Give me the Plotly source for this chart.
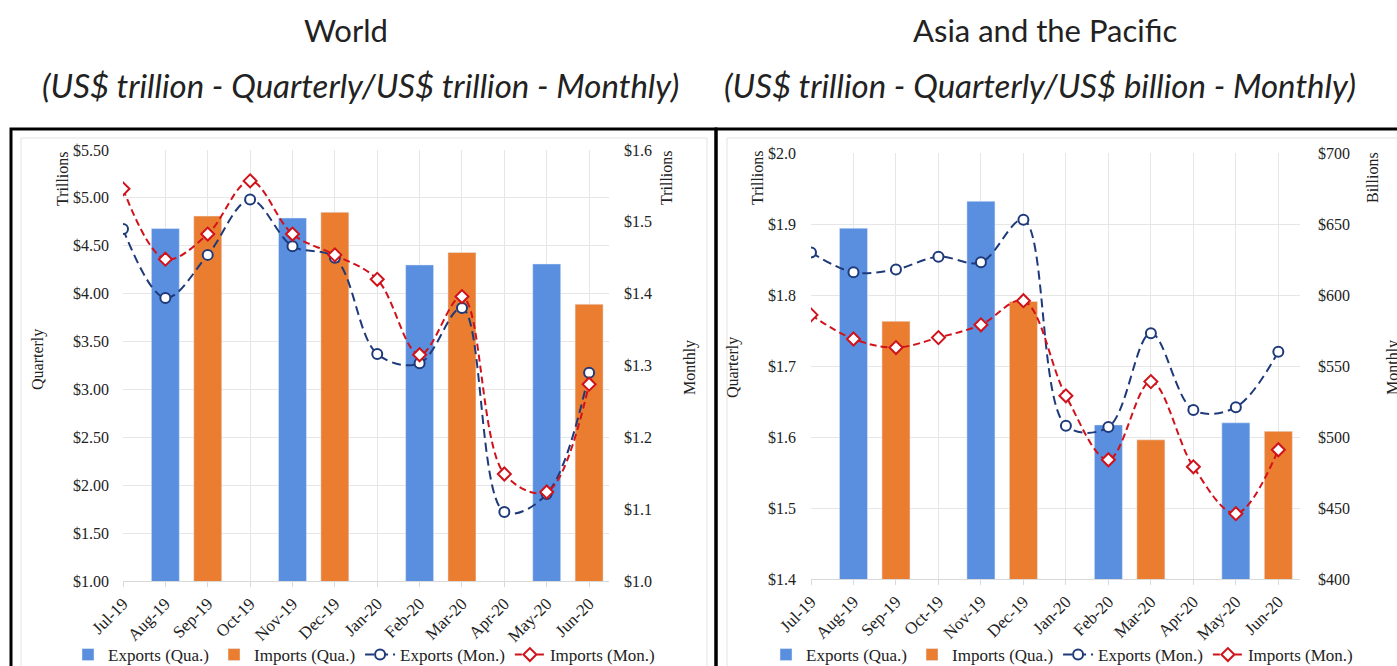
import plotly.graph_objects as go

months = ["Jul-19", "Aug-19", "Sep-19", "Oct-19", "Nov-19", "Dec-19",
          "Jan-20", "Feb-20", "Mar-20", "Apr-20", "May-20", "Jun-20"]

# World (US$ trillion)
w_exp_q = [None, 4.68, None, None, 4.79, None, None, 4.30, None, None, 4.31, None]
w_imp_q = [None, None, 4.81, None, None, 4.85, None, None, 4.43, None, None, 3.89]
w_exp_m = [1.490, 1.394, 1.454, 1.531, 1.466, 1.450, 1.316, 1.303, 1.380, 1.096, 1.121, 1.290]
w_imp_m = [1.546, 1.448, 1.483, 1.557, 1.483, 1.454, 1.420, 1.315, 1.396, 1.149, 1.124, 1.274]

# Asia and the Pacific (US$ trillion quarterly / US$ billion monthly)
a_exp_q = [None, 1.894, None, None, 1.932, None, None, 1.617, None, None, 1.620, None]
a_imp_q = [None, None, 1.763, None, None, 1.791, None, None, 1.596, None, None, 1.608]
a_exp_m = [630, 616, 618, 627, 623, 653, 508, 507, 573, 519, 521, 560]
a_imp_m = [586, 569, 563, 570, 579, 596, 529, 484, 539, 479, 446, 491]

BLUE = "#5A8FE0"
ORANGE = "#EB7D30"
NAVY = "#1F3A7A"
RED = "#D0121B"
SERIF = "Liberation Serif"
GRID = "#E6E6E6"

W, H = 1397, 666
def px(x):
    return x / W
def py(y):
    return 1 - y / H

fig = go.Figure()

def add_panel(xa, ya_q, ya_m, exp_q, imp_q, exp_m, imp_m, legend):
    fig.add_trace(go.Bar(x=months, y=exp_q, name="Exports (Qua.)", marker_color=BLUE,
                         width=0.66, xaxis=xa, yaxis=ya_q, legend=legend))
    fig.add_trace(go.Bar(x=months, y=imp_q, name="Imports (Qua.)", marker_color=ORANGE,
                         width=0.66, xaxis=xa, yaxis=ya_q, legend=legend))
    fig.add_trace(go.Scatter(x=months, y=exp_m, name="Exports (Mon.)", mode="lines+markers",
                             line=dict(color=NAVY, width=2, dash="9px,5px", shape="spline", smoothing=1),
                             marker=dict(symbol="circle", size=10, color="white",
                                         line=dict(color=NAVY, width=2)),
                             xaxis=xa, yaxis=ya_m, legend=legend))
    fig.add_trace(go.Scatter(x=months, y=imp_m, name="Imports (Mon.)", mode="lines+markers",
                             line=dict(color=RED, width=2, dash="7px,4px", shape="spline", smoothing=1),
                             marker=dict(symbol="diamond", size=10, color="white",
                                         line=dict(color=RED, width=2)),
                             xaxis=xa, yaxis=ya_m, legend=legend))

add_panel("x", "y", "y2", w_exp_q, w_imp_q, w_exp_m, w_imp_m, "legend")
add_panel("x2", "y3", "y4", a_exp_q, a_imp_q, a_exp_m, a_imp_m, "legend2")

tickfont = dict(family=SERIF, size=16, color="#222")
xtickfont = dict(family=SERIF, size=17, color="#222")
xcommon = dict(type="category", categoryorder="array", categoryarray=months,
               tickangle=-45, showgrid=True, gridcolor=GRID, gridwidth=1,
               showline=True, linecolor="#D9D9D9", ticks="outside", ticklen=5,
               tickcolor="#D9D9D9", tickfont=xtickfont, zeroline=False, automargin=False)
ycommon = dict(showgrid=True, gridcolor=GRID, zeroline=False, showline=False,
               tickfont=tickfont, ticks="", automargin=False)

legcommon = dict(orientation="h", xref="container", yref="container", xanchor="center",
                 yanchor="middle", font=dict(family=SERIF, size=17, color="#222"),
                 bgcolor="rgba(0,0,0,0)", traceorder="normal", itemwidth=30)

fig.update_layout(
    width=W, height=H, autosize=False,
    margin=dict(l=0, r=0, t=0, b=0, autoexpand=False),
    paper_bgcolor="white", plot_bgcolor="white",
    barmode="overlay",
    xaxis=dict(xcommon, domain=[px(123), px(609)], range=[0, 11.47], anchor="y"),
    yaxis=dict(ycommon, domain=[py(581), py(150)], range=[1.0, 5.5], dtick=0.5,
               tickformat="$.2f", anchor="x", ticklabelstandoff=13),
    yaxis2=dict(ycommon, range=[1.0, 1.6], dtick=0.1, tickformat="$.1f", overlaying="y",
                side="right", anchor="x", showgrid=False, ticklabelstandoff=14),
    xaxis2=dict(xcommon, domain=[px(811), px(1300)], range=[0, 11.51], anchor="y3"),
    yaxis3=dict(ycommon, domain=[py(579), py(153)], range=[1.4, 2.0], dtick=0.1,
                tickformat="$.1f", anchor="x2", ticklabelstandoff=14),
    yaxis4=dict(ycommon, range=[400, 700], dtick=50, tickformat="$,.0f", overlaying="y3",
                side="right", anchor="x2", showgrid=False, ticklabelstandoff=17),
    legend=dict(legcommon, x=px(364), y=py(655)),
    legend2=dict(legcommon, x=px(1062), y=py(655)),
)

# Frames
fig.add_shape(type="rect", xref="paper", yref="paper", x0=px(21), x1=px(707), y0=py(680), y1=py(138),
              line=dict(color="#E3E3E3", width=1), layer="below")
fig.add_shape(type="rect", xref="paper", yref="paper", x0=px(727), x1=px(1410), y0=py(680), y1=py(138),
              line=dict(color="#E3E3E3", width=1), layer="below")
fig.add_shape(type="rect", xref="paper", yref="paper", x0=px(11), x1=px(716), y0=py(690), y1=py(129),
              line=dict(color="black", width=3))
fig.add_shape(type="rect", xref="paper", yref="paper", x0=px(716), x1=px(1420), y0=py(690), y1=py(129),
              line=dict(color="black", width=3))

TFONT = "Lato"
def ann(text, x, y, size=16, angle=0, family=SERIF, color="#222"):
    fig.add_annotation(text=text, xref="paper", yref="paper", x=px(x), y=py(y),
                       xanchor="center", yanchor="middle", showarrow=False, textangle=angle,
                       font=dict(family=family, size=size, color=color))

ann("World", 346, 30, size=31, family=TFONT, color="#222")
ann("Asia and the Pacific", 1045, 30, size=31, family=TFONT, color="#222")
ann("<i>(US$ trillion - Quarterly/US$ trillion - Monthly)</i>", 360, 85, size=33, family=TFONT, color="#222")
ann("<i>(US$ trillion - Quarterly/US$ billion - Monthly)</i>", 1040, 85, size=33, family=TFONT, color="#222")

ann("Trillions", 62, 178, angle=-90)
ann("Quarterly", 38, 360, angle=-90)
ann("Trillions", 666, 178, angle=-90)
ann("Monthly", 690, 368, angle=-90)
ann("Trillions", 757, 178, angle=-90)
ann("Quarterly", 733, 368, angle=-90)
ann("Billions", 1372, 178, angle=-90)
ann("Monthly", 1393, 368, angle=-90)

fig.write_html("out.html")
